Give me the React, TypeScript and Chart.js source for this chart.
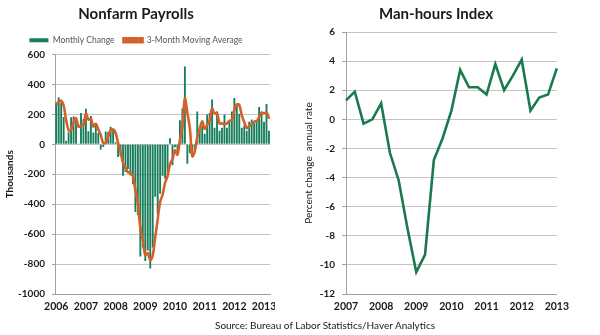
import React, { useEffect, useRef } from "react";
import { Chart, registerables } from "chart.js";

Chart.register(...registerables);

// ---------- Data ----------
const payrollYears = [2006, 2007, 2008, 2009, 2010, 2011, 2012];
const monthsInLastYear = ["2013-01", "2013-02", "2013-03"];
const payrollMonths: string[] = [];
for (const y of payrollYears) {
  for (let m = 1; m <= 12; m++) payrollMonths.push(`${y}-${m < 10 ? "0" + m : m}`);
}
payrollMonths.push(...monthsInLastYear);

// Monthly change in nonfarm payrolls (thousands)
const monthlyChange = [
  // 2006
  277, 315, 280, 182, 23, 80, 181, 185, 159, 6, 209, 169,
  // 2007
  238, 88, 189, 79, 143, 76, -34, -18, 85, 82, 118, 97,
  // 2008
  13, -84, -78, -210, -185, -165, -209, -266, -452, -473, -750, -690,
  // 2009
  -780, -710, -830, -690, -350, -470, -330, -210, -230, -200, 40, -140,
  // 2010
  -20, -50, 160, 240, 520, -130, -60, -50, -30, 220, 120, 120,
  // 2011
  70, 200, 210, 300, 110, 220, 90, 110, 200, 110, 160, 220,
  // 2012
  310, 270, 205, 110, 125, 90, 150, 165, 140, 160, 250, 220,
  // 2013
  150, 270, 90,
];

// 3-month moving average (thousands)
const movingAverage = [
  // 2006
  265, 285, 291, 259, 162, 95, 95, 149, 175, 117, 125, 128,
  // 2007
  205, 165, 172, 119, 137, 99, 62, 8, 11, 50, 95, 99,
  // 2008
  76, 9, -50, -124, -158, -187, -186, -213, -309, -397, -558, -638,
  // 2009
  -740, -727, -773, -743, -623, -503, -383, -337, -257, -213, -130, -100,
  // 2010
  -40, -70, 30, 117, 307, 210, 110, -80, -47, 47, 103, 153,
  // 2011
  103, 130, 160, 237, 207, 210, 140, 140, 133, 140, 157, 163,
  // 2012
  230, 267, 262, 195, 147, 108, 122, 135, 152, 155, 183, 210,
  // 2013
  207, 213, 170,
];

const payrollTicks = [600, 400, 200, 0, -200, -400, -600, -800, -1000];

const manHoursQuarters = [
  "2007Q1", "2007Q2", "2007Q3", "2007Q4",
  "2008Q1", "2008Q2", "2008Q3", "2008Q4",
  "2009Q1", "2009Q2", "2009Q3", "2009Q4",
  "2010Q1", "2010Q2", "2010Q3", "2010Q4",
  "2011Q1", "2011Q2", "2011Q3", "2011Q4",
  "2012Q1", "2012Q2", "2012Q3", "2012Q4",
  "2013Q1",
];

// Percent change, annual rate
const manHours = [
  1.3, 1.9, -0.3, 0.0,
  1.1, -2.3, -4.2, -7.5,
  -10.5, -9.3, -2.8, -1.3,
  0.6, 3.4, 2.2, 2.2,
  1.7, 3.8, 2.0, 3.0,
  4.1, 0.6, 1.5, 1.7,
  3.5,
];

const manHoursTicks = [6, 4, 2, 0, -2, -4, -6, -8, -10, -12];

// ---------- Styles ----------
const FONT = "Lato, 'Open Sans', sans-serif";
const BAR_GREEN = "#177d5c";
const LINE_GREEN = "#1a7a4e";
const ORANGE = "#d5612a";
const GRID = "#c4c4c4";
const AXIS = "#a0a0a0";
const TEXT = "#1a1a1a";

function PayrollChart() {
  const ref = useRef<HTMLCanvasElement | null>(null);
  useEffect(() => {
    if (!ref.current) return;
    const chart = new Chart(ref.current, {
      type: "bar",
      data: {
        labels: payrollMonths,
        datasets: [
          {
            type: "bar",
            label: "Monthly Change",
            data: monthlyChange,
            backgroundColor: BAR_GREEN,
            borderWidth: 0,
            barPercentage: 0.75,
            categoryPercentage: 1,
            order: 2,
          } as any,
          {
            type: "line",
            label: "3-Month Moving Average",
            data: movingAverage,
            borderColor: ORANGE,
            backgroundColor: ORANGE,
            borderWidth: 2.6,
            pointRadius: 0,
            tension: 0.35,
            order: 1,
          } as any,
        ],
      },
      options: {
        animation: false,
        responsive: false,
        maintainAspectRatio: false,
        layout: { padding: { left: 0, right: 3, top: 2, bottom: 21 } },
        plugins: {
          title: {
            display: true,
            text: "Nonfarm Payrolls",
            color: TEXT,
            font: { family: FONT, size: 15, weight: "bold" },
            padding: { top: 3, bottom: 4 },
          },
          legend: {
            display: true,
            labels: {
              boxWidth: 19,
              boxHeight: 4,
              color: "#555",
              font: { family: FONT, size: 8.5 },
              padding: 9,
              sort: (a: any, b: any) => a.datasetIndex - b.datasetIndex,
            },
          },
          tooltip: { enabled: false },
        },
        scales: {
          x: {
            offset: true,
            grid: { display: false, drawTicks: false },
            border: { display: true, color: AXIS },
            ticks: {
              autoSkip: false,
              maxRotation: 0,
              minRotation: 0,
              padding: 6,
              color: TEXT,
              font: { family: FONT, size: 10.5, weight: "bold" },
              callback: (_v: any, i: number) =>
                payrollMonths[i].endsWith("-01") ? payrollMonths[i].slice(0, 4) : "",
            },
            afterFit: (s: any) => {
              s.height = 20;
            },
          } as any,
          y: {
            min: -1000,
            max: 600,
            afterBuildTicks: (s: any) => {
              s.ticks = payrollTicks.map((v) => ({ value: v }));
            },
            grid: { color: GRID, tickLength: 3, tickColor: AXIS },
            border: { display: true, color: AXIS },
            ticks: {
              padding: 7,
              color: TEXT,
              font: { family: FONT, size: 10, weight: "bold" },
              callback: (v: any) => String(v),
            },
            title: {
              display: true,
              text: "Thousands",
              color: TEXT,
              font: { family: FONT, size: 10, weight: "bold" },
              padding: { top: 4, bottom: 0 },
            },
            afterFit: (s: any) => {
              s.width = 55;
            },
          } as any,
        },
      },
    });
    return () => chart.destroy();
  }, []);
  return (
    <canvas
      ref={ref}
      width={275}
      height={335}
      style={{ position: "absolute", left: 0, top: 0, width: 275, height: 335 }}
    />
  );
}

function ManHoursChart() {
  const ref = useRef<HTMLCanvasElement | null>(null);
  useEffect(() => {
    if (!ref.current) return;
    const chart = new Chart(ref.current, {
      type: "line",
      data: {
        labels: manHoursQuarters,
        datasets: [
          {
            label: "Man-hours Index",
            data: manHours,
            borderColor: LINE_GREEN,
            backgroundColor: LINE_GREEN,
            borderWidth: 2.6,
            pointRadius: 0,
            tension: 0,
          },
        ],
      },
      options: {
        animation: false,
        responsive: false,
        maintainAspectRatio: false,
        layout: { padding: { left: 0, right: 3, top: 2, bottom: 21 } },
        plugins: {
          title: {
            display: true,
            text: "Man-hours Index",
            color: TEXT,
            font: { family: FONT, size: 15, weight: "bold" },
            padding: { top: 3, bottom: 9 },
          },
          legend: { display: false },
          tooltip: { enabled: false },
        },
        scales: {
          x: {
            offset: false,
            grid: { display: false, drawTicks: false },
            border: { display: true, color: AXIS },
            ticks: {
              autoSkip: false,
              maxRotation: 0,
              minRotation: 0,
              padding: 6,
              color: TEXT,
              font: { family: FONT, size: 10.5, weight: "bold" },
              callback: (_v: any, i: number) =>
                manHoursQuarters[i].endsWith("Q1") ? manHoursQuarters[i].slice(0, 4) : "",
            },
            afterFit: (s: any) => {
              s.height = 20;
            },
          } as any,
          y: {
            min: -12,
            max: 6,
            afterBuildTicks: (s: any) => {
              s.ticks = manHoursTicks.map((v) => ({ value: v }));
            },
            grid: { color: GRID, tickLength: 4, tickColor: AXIS },
            border: { display: true, color: AXIS },
            ticks: {
              padding: 7,
              color: TEXT,
              font: { family: FONT, size: 10, weight: "bold" },
              callback: (v: any) => String(v),
            },
            title: {
              display: true,
              text: "Percent change  annual rate",
              color: TEXT,
              font: { family: FONT, size: 10 },
              padding: { top: 3, bottom: 0 },
            },
            afterFit: (s: any) => {
              s.width = 46;
            },
          } as any,
        },
      },
    });
    return () => chart.destroy();
  }, []);
  return (
    <canvas
      ref={ref}
      width={275}
      height={335}
      style={{ position: "absolute", left: 300, top: 0, width: 275, height: 335 }}
    />
  );
}

export default function App() {
  return (
    <div
      style={{
        position: "fixed",
        left: 0,
        top: 0,
        width: 600,
        height: 335,
        background: "#fff",
        overflow: "hidden",
      }}
    >
      <PayrollChart />
      <ManHoursChart />
      <div
        style={{
          position: "absolute",
          left: 0,
          width: 650,
          top: 319,
          textAlign: "center",
          fontFamily: FONT,
          fontSize: 10,
          color: TEXT,
          whiteSpace: "nowrap",
        }}
      >
        Source: Bureau of Labor Statistics/Haver Analytics
      </div>
    </div>
  );
}
